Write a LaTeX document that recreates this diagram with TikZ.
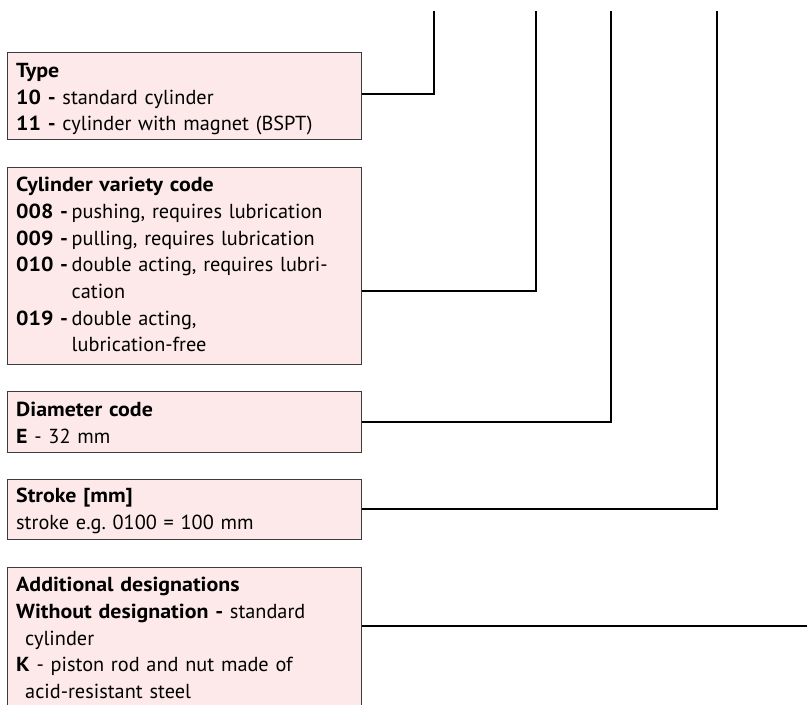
\documentclass[tikz,border=0pt]{standalone}
\usepackage{fontspec}
\setmainfont{PT Sans}[BoldFeatures={FakeStretch=1.08}]
\definecolor{boxfill}{RGB}{253,233,233}
\definecolor{boxline}{RGB}{60,60,60}
\newlength{\lblw}
\setlength{\lblw}{55.5pt}
\newcommand{\lbl}[1]{\makebox[\lblw][l]{\textbf{#1}}}
\frenchspacing
\begin{document}
\begin{tikzpicture}[x=1pt,y=-1pt,
  box/.style={draw=boxline, fill=boxfill, line width=0.8pt, minimum width=354pt, anchor=north west, inner sep=0pt},
  txt/.style={anchor=base west, inner sep=0pt, text width=344pt, align=left, font=\fontsize{20.3}{26.7}\selectfont},
  conn/.style={line width=2pt, line join=miter}]
\useasboundingbox (0,0) rectangle (807,705);
% boxes
\node[box, minimum height=87pt] (type) at (7,52) {};
\node[box, minimum height=196.7pt] (cyl) at (7,167) {};
\node[box, minimum height=60.7pt] (dia) at (7,391) {};
\node[box, minimum height=60pt] (str) at (7,479.3) {};
\node[box, minimum height=150pt] (add) at (7,566.7) {};
% texts
\node[txt] (typet) at (16,77.3) {\textbf{Type}\\
\textbf{10 -} standard cylinder\\
\textbf{11 -} cylinder with magnet (BSPT)};
\node[txt] (cylt) at (16,191.7) {\textbf{Cylinder variety code}\\
\lbl{008 -}pushing, requires lubrication\\
\lbl{009 -}pulling, requires lubrication\\
\lbl{010 -}double acting, requires lubri-\\
\hspace*{\lblw}cation\\
\lbl{019 -}double acting,\\
\hspace*{\lblw}lubrication-free};
\node[txt] (diat) at (16,416.7) {\textbf{Diameter code}\\
\textbf{E} - 32 mm};
\node[txt] (strt) at (16,502.7) {\textbf{Stroke [mm]}\\
stroke e.g. 0100 = 100 mm};
\node[txt] (addt) at (16,591.7) {\textbf{Additional designations}\\
\textbf{Without designation -} standard\\
\hspace*{9pt}cylinder\\
\textbf{K} - piston rod and nut made of\\
\hspace*{9pt}acid-resistant steel};
% connector bends and ends
\coordinate (p1) at (434,11);
\coordinate (p2) at (536,11);
\coordinate (p3) at (611,11);
\coordinate (p4) at (717,11);
\coordinate (b1) at (434,94);
\coordinate (b2) at (536,291);
\coordinate (b3) at (611,422);
\coordinate (b4) at (717,509);
\coordinate (p5) at (812,626);
\draw[conn] (type.east |- b1) -- (b1) -- (p1);
\draw[conn] (cyl.east |- b2) -- (b2) -- (p2);
\draw[conn] (dia.east |- b3) -- (b3) -- (p3);
\draw[conn] (str.east |- b4) -- (b4) -- (p4);
\draw[conn] (add.east |- p5) -- (p5);
\end{tikzpicture}
\end{document}
